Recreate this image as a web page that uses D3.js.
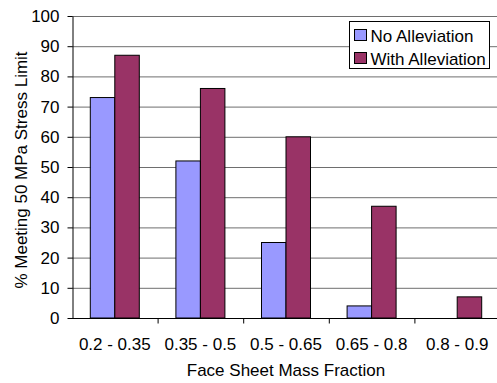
<!DOCTYPE html>
<html>
<head>
<meta charset="utf-8">
<script src="https://cdn.jsdelivr.net/npm/d3@7"></script>
<style>
  html, body { margin: 0; padding: 0; background: #fff; }
  svg { display: block; font-family: Arial, "Liberation Sans", sans-serif; }
</style>
</head>
<body>
<svg id="chart" width="497" height="383"></svg>
<script>
// Fraction ranges and percentage of designs meeting the stress limit
const categories = ["0.2 - 0.35", "0.35 - 0.5", "0.5 - 0.65", "0.65 - 0.8", "0.8 - 0.9"];
const noAlleviation = [73, 52, 25, 4, 0];
const withAlleviation = [87, 76, 60, 37, 7];
const seriesNames = ["No Alleviation", "With Alleviation"];
const seriesColors = ["#9999FF", "#993366"];
const yTicks = [0, 10, 20, 30, 40, 50, 60, 70, 80, 90, 100];

const svg = d3.select("#chart");
const plotLeft = 72, plotRight = 500, plotTop = 16, plotBottom = 318;
const fontSize = 17;

const x = d3.scaleBand().domain(categories).range([plotLeft, plotRight]).padding(0);
const y = d3.scaleLinear().domain([0, 100]).range([plotBottom, plotTop]);
const barW = 24.5;

// Horizontal gridlines
svg.append("g").selectAll("line").data(yTicks.filter(d => d > 0)).join("line")
  .attr("x1", plotLeft).attr("x2", plotRight)
  .attr("y1", d => y(d) + 0.5).attr("y2", d => y(d) + 0.5)
  .attr("stroke", "#6e6e6e").attr("stroke-width", 1);

// Bars
const series = [noAlleviation, withAlleviation];
series.forEach((vals, si) => {
  svg.append("g").selectAll("rect").data(vals.map((v, i) => ({ v, c: categories[i] })).filter(d => d.v > 0)).join("rect")
    .attr("x", d => x(d.c) + x.bandwidth() / 2 - barW + si * barW)
    .attr("y", d => y(d.v))
    .attr("width", barW)
    .attr("height", d => plotBottom - y(d.v))
    .attr("fill", seriesColors[si])
    .attr("stroke", "#000").attr("stroke-width", 1);
});

// Y axis
const yAxis = svg.append("g").attr("transform", `translate(${plotLeft + 0.5},0)`)
  .call(d3.axisLeft(y).tickValues(yTicks).tickSize(5).tickPadding(8).tickSizeOuter(0));
yAxis.select(".domain").attr("stroke", "#000");
yAxis.selectAll(".tick line").attr("stroke", "#000");
yAxis.selectAll("text").attr("font-size", fontSize).attr("fill", "#000")
  .attr("font-family", "Arial, 'Liberation Sans', sans-serif");

// X axis with ticks between categories
const xAxisG = svg.append("g").attr("transform", `translate(0,${plotBottom + 0.5})`);
xAxisG.append("line").attr("x1", plotLeft).attr("x2", plotRight).attr("stroke", "#000");
xAxisG.selectAll("line.tk").data(categories).join("line").attr("class", "tk")
  .attr("x1", d => x(d) + x.bandwidth() + 0.5).attr("x2", d => x(d) + x.bandwidth() + 0.5)
  .attr("y1", 0).attr("y2", 5).attr("stroke", "#000");
xAxisG.selectAll("text").data(categories).join("text")
  .attr("x", d => x(d) + x.bandwidth() / 2)
  .attr("y", 31.5)
  .attr("text-anchor", "middle")
  .attr("font-size", fontSize)
  .text(d => d);

// Axis titles
svg.append("text").attr("x", 286).attr("y", 376).attr("text-anchor", "middle")
  .attr("font-size", fontSize).text("Face Sheet Mass Fraction");
svg.append("text").attr("transform", "translate(27,170) rotate(-90)")
  .attr("text-anchor", "middle").attr("font-size", fontSize)
  .text("% Meeting 50 MPa Stress Limit");

// Legend
const lg = svg.append("g").attr("transform", "translate(349.5,21.5)");
lg.append("rect").attr("width", 140).attr("height", 47)
  .attr("fill", "#fff").attr("stroke", "#000");
seriesNames.forEach((name, i) => {
  lg.append("rect").attr("x", 5).attr("y", 8 + i * 23).attr("width", 12).attr("height", 11)
    .attr("fill", seriesColors[i]).attr("stroke", "#000");
  lg.append("text").attr("x", 21).attr("y", 20 + i * 23).attr("font-size", fontSize).text(name);
});
</script>
</body>
</html>
